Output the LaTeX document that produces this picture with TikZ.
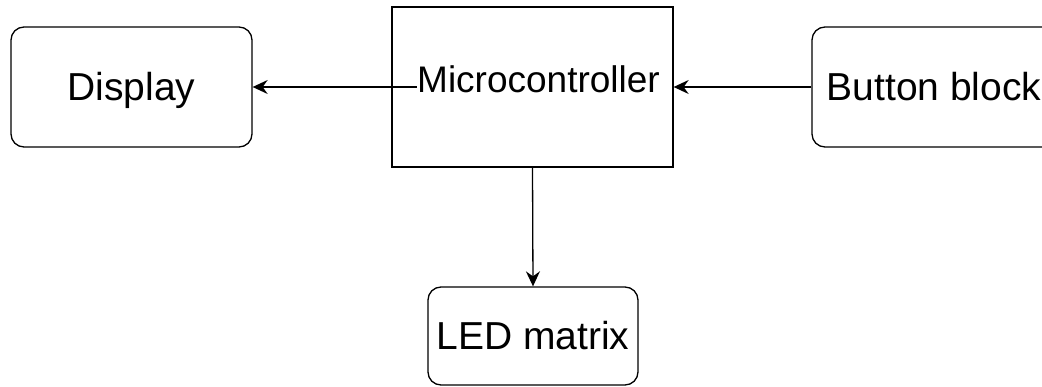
\documentclass[tikz,border=0pt]{standalone}
\usepackage{fontspec}
\setmainfont{Liberation Sans}
\usetikzlibrary{arrows.meta,positioning}

\begin{document}
\begin{tikzpicture}[x=1pt, y=-1pt,
    block/.style={draw, line width=1.3pt, rounded corners=13pt, font=\fontsize{39}{47}\selectfont, text height=28pt, text depth=0pt},
    conn/.style={line width=1.3pt, -{Stealth[length=15pt, width=14pt, inset=5pt]}}]
  \useasboundingbox (0,0) rectangle (1042,387);
  \node[block, minimum width=241pt, minimum height=120pt] (disp) at (131.5,87) {Display};
  \node[draw, line width=1.3pt, minimum width=281pt, minimum height=160pt] (mcu) at (532.5,87) {};
  \node[font=\fontsize{37}{44}\selectfont, anchor=base, inner sep=0pt] (mcutext) at (538.5,93) {Microcontroller};
  \node[block, minimum width=244pt, minimum height=120pt] (btn) at (934,87) {Button block};
  \node[block, minimum width=210pt, minimum height=98pt] (led) at (533,336) {LED matrix};
  \draw[conn] (mcutext.west |- disp.east) -- (disp.east);
  \draw[conn] (btn.west) -- (mcu.east);
  \draw[conn] (mcu.south) -- (led.north);
\end{tikzpicture}
\end{document}
